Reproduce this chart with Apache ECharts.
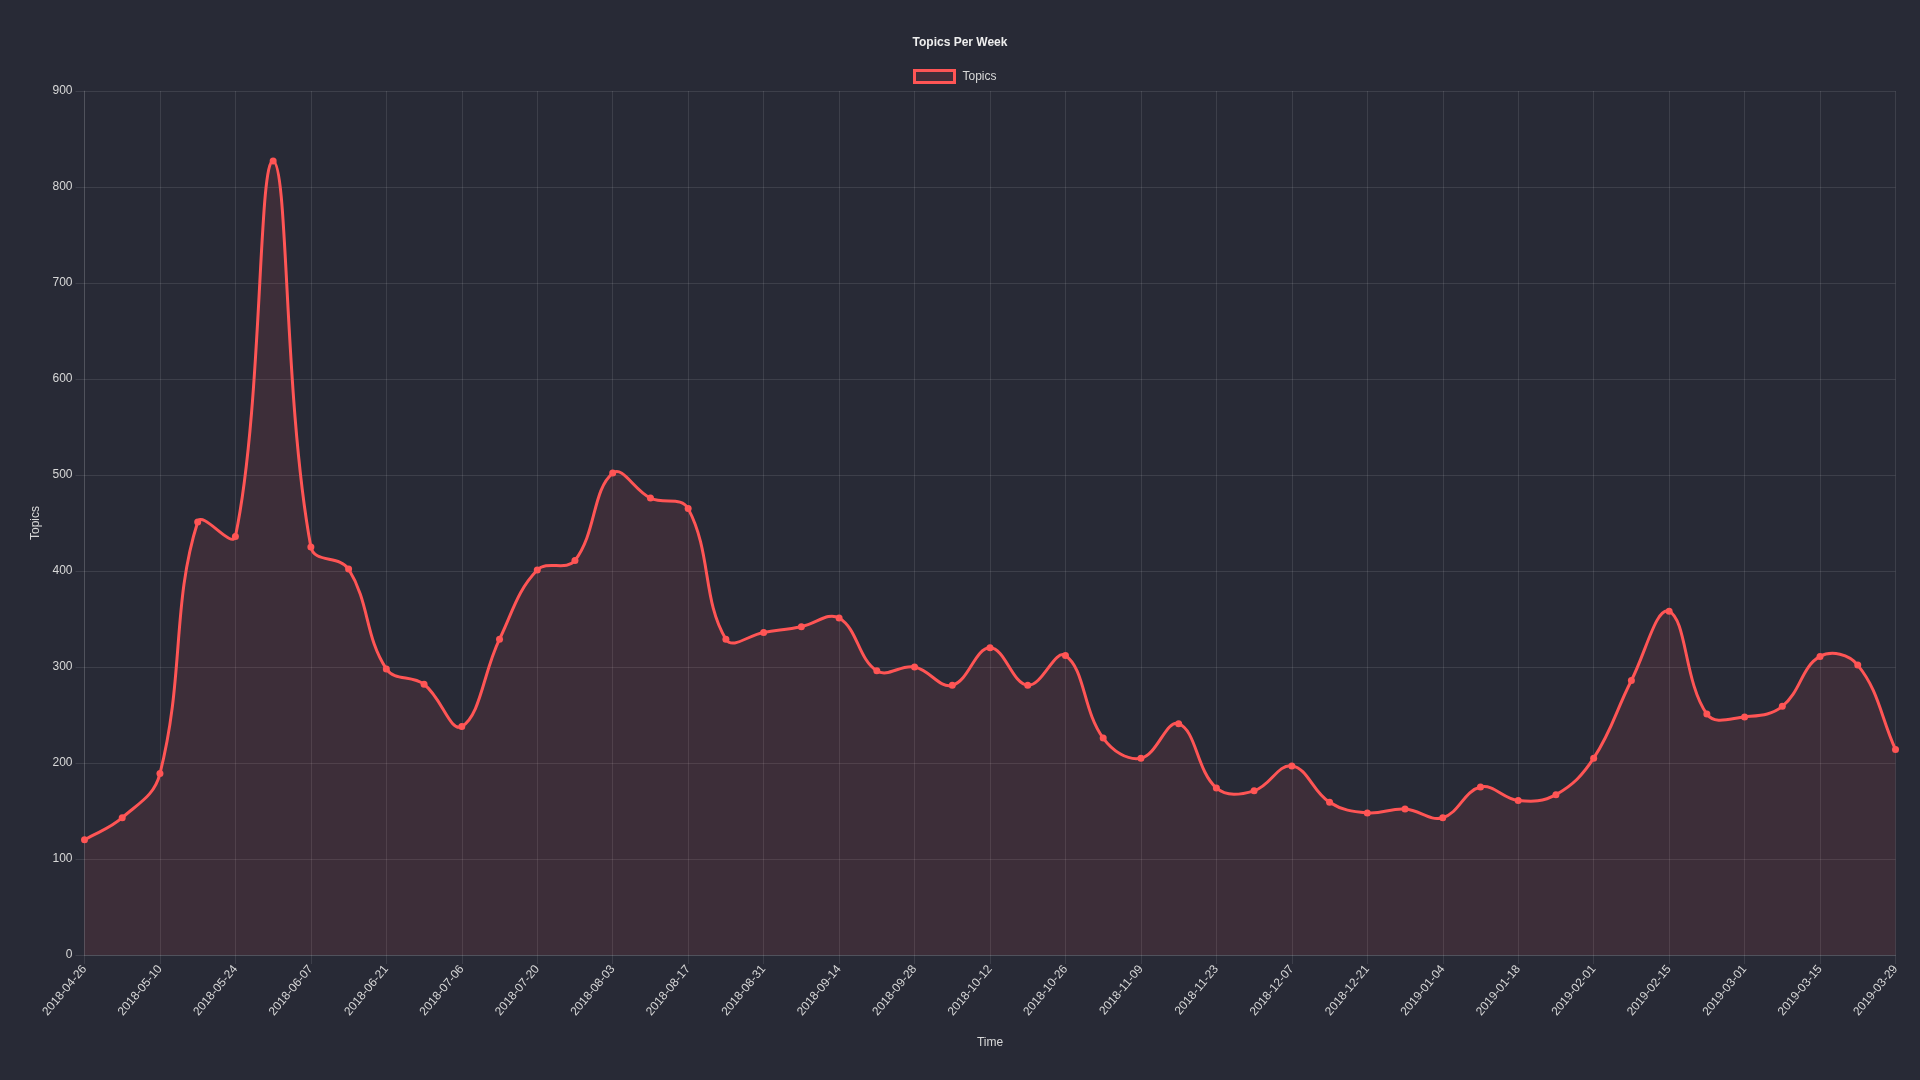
<!DOCTYPE html>
<html>
<head>
<meta charset="utf-8">
<script src="https://cdn.jsdelivr.net/npm/echarts@6/dist/echarts.min.js"></script>
<style>
html,body{margin:0;padding:0;background:#282a36;}
#chart{width:1920px;height:1080px;}
</style>
</head>
<body>
<div id="chart"></div>
<script>
const weeks = [
  '2018-04-26','2018-05-03','2018-05-10','2018-05-17','2018-05-24','2018-05-31','2018-06-07','2018-06-14',
  '2018-06-21','2018-06-29','2018-07-06','2018-07-13','2018-07-20','2018-07-27','2018-08-03','2018-08-10',
  '2018-08-17','2018-08-24','2018-08-31','2018-09-07','2018-09-14','2018-09-21','2018-09-28','2018-10-05',
  '2018-10-12','2018-10-19','2018-10-26','2018-11-02','2018-11-09','2018-11-16','2018-11-23','2018-11-30',
  '2018-12-07','2018-12-14','2018-12-21','2018-12-28','2019-01-04','2019-01-11','2019-01-18','2019-01-25',
  '2019-02-01','2019-02-08','2019-02-15','2019-02-22','2019-03-01','2019-03-08','2019-03-15','2019-03-22',
  '2019-03-29'
];
const topics = [
  120,143,189,451,436,827,425,402,298,282,238,329,401,411,502,476,
  465,329,336,342,351,296,300,281,320,281,312,226,205,241,174,171,
  197,159,148,152,143,175,161,167,205,286,358,251,248,259,311,302,
  214
];
const yTicks = [0,100,200,300,400,500,600,700,800,900];

const textColor = '#d8d8d8';
const gridColor = 'rgba(255,255,255,0.1)';
const lineColor = '#ff5555';
const fillColor = 'rgba(255,85,85,0.1)';
const font = '"Liberation Sans", Arial, Helvetica, sans-serif';
const tension = 0.4;

// Draws the tension-spline through the data points, positioned via the chart's own scales (api.coord).
function renderCurve(params, api) {
  if (params.dataIndexInside !== 0) return null;
  const n = params.dataInsideLength;
  const cs = params.coordSys;
  const pts = [];
  for (let i = 0; i < n; i++) {
    pts.push(api.coord([api.value(0, i), api.value(1, i)]));
  }
  const clampX = v => Math.max(cs.x, Math.min(cs.x + cs.width, v));
  const clampY = v => Math.max(cs.y, Math.min(cs.y + cs.height, v));
  const cpPrev = [], cpNext = [];
  for (let i = 0; i < n; i++) {
    const prev = pts[i > 0 ? i - 1 : i];
    const cur = pts[i];
    const next = pts[i < n - 1 ? i + 1 : i];
    const d01 = Math.hypot(cur[0] - prev[0], cur[1] - prev[1]);
    const d12 = Math.hypot(next[0] - cur[0], next[1] - cur[1]);
    let s01 = d01 / (d01 + d12), s12 = d12 / (d01 + d12);
    if (isNaN(s01)) s01 = 0;
    if (isNaN(s12)) s12 = 0;
    const fa = tension * s01, fb = tension * s12;
    cpPrev.push([clampX(cur[0] - fa * (next[0] - prev[0])), clampY(cur[1] - fa * (next[1] - prev[1]))]);
    cpNext.push([clampX(cur[0] + fb * (next[0] - prev[0])), clampY(cur[1] + fb * (next[1] - prev[1]))]);
  }
  let d = 'M' + pts[0][0] + ' ' + pts[0][1];
  for (let i = 0; i < n - 1; i++) {
    d += ' C' + cpNext[i][0] + ' ' + cpNext[i][1] + ' ' + cpPrev[i + 1][0] + ' ' + cpPrev[i + 1][1] +
         ' ' + pts[i + 1][0] + ' ' + pts[i + 1][1];
  }
  const base = api.coord([0, 0])[1];
  const area = d + ' L' + pts[n - 1][0] + ' ' + base + ' L' + pts[0][0] + ' ' + base + ' Z';
  return {
    type: 'group',
    children: [
      {type: 'path', shape: {pathData: area}, style: {fill: fillColor, stroke: null}, z2: 1},
      {type: 'path', shape: {pathData: d}, style: {fill: null, stroke: lineColor, lineWidth: 3, lineJoin: 'round'}, z2: 2}
    ]
  };
}

const chart = echarts.init(document.getElementById('chart'), null, {renderer:'canvas'});
chart.setOption({
  backgroundColor: '#282a36',
  animation: false,
  title: {
    text: 'Topics Per Week',
    left: 'center',
    top: 32,
    textStyle: {color: '#eeeeee', fontSize: 12, fontWeight: 'bold', fontFamily: font}
  },
  legend: {
    top: 64,
    left: 908,
    itemWidth: 40,
    itemHeight: 12,
    itemGap: 10,
    textStyle: {color: textColor, fontSize: 12, fontFamily: font, padding: [0, 0, 0, 3]},
    data: [{
      name: 'Topics',
      icon: 'rect',
      itemStyle: {color: 'rgba(255,85,85,0.12)', borderColor: lineColor, borderWidth: 3}
    }]
  },
  grid: {left: 84.5, right: 24.5, top: 91, bottom: 125, containLabel: false},
  xAxis: {
    type: 'category',
    data: weeks,
    boundaryGap: false,
    name: 'Time',
    nameLocation: 'middle',
    nameGap: 82,
    nameTextStyle: {color: textColor, fontSize: 12, fontFamily: font},
    axisLine: {show: true, lineStyle: {color: gridColor, width: 1}},
    axisTick: {show: true, interval: 1, length: 9, lineStyle: {color: gridColor}},
    splitLine: {show: true, interval: 1, lineStyle: {color: gridColor, width: 1}},
    axisLabel: {
      interval: 1,
      rotate: 50,
      margin: 12,
      color: textColor,
      fontSize: 12,
      fontFamily: font
    }
  },
  yAxis: {
    type: 'value',
    min: yTicks[0],
    max: yTicks[yTicks.length - 1],
    interval: 100,
    name: 'Topics',
    nameLocation: 'middle',
    nameGap: 40,
    nameRotate: 90,
    nameTextStyle: {color: textColor, fontSize: 12, fontFamily: font},
    axisLine: {show: true, lineStyle: {color: gridColor, width: 1}},
    axisTick: {show: true, length: 9, lineStyle: {color: gridColor}},
    splitLine: {show: true, lineStyle: {color: gridColor, width: 1}},
    axisLabel: {color: textColor, fontSize: 12, fontFamily: font, margin: 12}
  },
  series: [
    {
      name: 'Topics',
      type: 'custom',
      renderItem: renderCurve,
      data: topics.map((v, i) => [i, v]),
      encode: {x: 0, y: 1},
      silent: true,
      z: 2
    },
    {
      name: 'Topics',
      type: 'line',
      data: topics,
      symbol: 'circle',
      symbolSize: 7,
      lineStyle: {width: 0, color: lineColor},
      itemStyle: {color: lineColor},
      z: 3
    }
  ]
});
</script>
</body>
</html>
